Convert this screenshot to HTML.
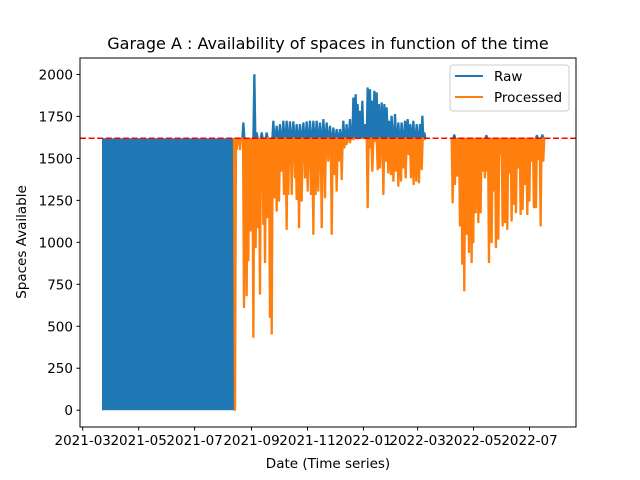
<!DOCTYPE html>
<html><head><meta charset="utf-8">
<style>
body{margin:0;background:#fff;}
svg{display:block;font-family:"DejaVu Sans","Liberation Sans",sans-serif;}
</style></head>
<body>
<svg id="chart" width="640" height="480" viewBox="0 0 640 480">
<rect width="640" height="480" fill="#fff"/>
<text x="328" y="49" font-size="16" text-anchor="middle">Garage A : Availability of spaces in function of the time</text>
<g id="plot"></g>
<g id="axes"></g>
<text x="328" y="468" font-size="13.5" text-anchor="middle">Date (Time series)</text>
<text x="26" y="242" font-size="13.5" text-anchor="middle" transform="rotate(-90 26 242)">Spaces Available</text>
<g>
<rect x="450" y="65" width="119" height="46" rx="3" fill="#fff" fill-opacity="0.8" stroke="#ccc"/>
<line x1="455" y1="76" x2="483" y2="76" stroke="#1f77b4" stroke-width="2"/>
<text x="494" y="81" font-size="13.5">Raw</text>
<line x1="455" y1="97" x2="483" y2="97" stroke="#ff7f0e" stroke-width="2"/>
<text x="494" y="102" font-size="13.5">Processed</text>
</g>
</svg>
<script>
// x in days since 2021-03-01
const xTickLabels=["2021-03","2021-05","2021-07","2021-09","2021-11","2022-01","2022-03","2022-05","2022-07"];
const xTickDays=[0,61,122,184,245,306,365,426,487];
const yTicks=[0,250,500,750,1000,1250,1500,1750,2000];
const capacity=1620;
const blockStartDay=21, blockEndDay=166, blockMin=0, blockMax=1620;
const rawDays=[175.1,187.1,189.6,195.1,200.5,207.8,211.4,215.0,218.7,222.3,225.9,229.6,233.2,236.8,240.5,244.1,247.7,251.4,255.0,258.6,262.3,265.9,269.5,273.2,276.8,280.4,284.1,287.7,291.3,295.0,297.5,299.7,302.2,304.8,307.7,310.6,313.1,315.7,317.9,320.4,322.9,325.9,328.8,331.3,333.8,336.7,340.4,344.0,347.6,351.3,354.2,357.1,360.4,364.0,367.6,370.2,372.4,405,440,495,501];
const rawVals=[1711,1998,1652,1652,1652,1721,1691,1701,1721,1721,1717,1717,1701,1701,1711,1717,1721,1721,1721,1711,1731,1711,1691,1681,1672,1672,1721,1701,1731,1859,1879,1820,1780,1840,1701,1919,1909,1840,1899,1889,1820,1830,1820,1800,1721,1751,1761,1711,1711,1721,1731,1701,1721,1701,1701,1751,1652,1640,1636,1636,1640];
const procDays=[166,167.8,171.4,175.8,178.7,180.5,183.1,186.0,188.5,190.7,193.2,196.9,198.7,201.6,204.1,206.0,208.9,211.4,214.0,216.9,219.4,222.3,224.1,227.8,231.4,233.2,235.8,238.7,242.3,245.2,248.8,251.4,253.9,256.8,260.5,264.1,267.7,271.4,274.3,276.8,279.3,282.3,285.2,287.7,291.3,295.0,300.4,305.9,310.6,313.1,315.7,318.6,321.5,324.0,327.7,330.2,333.1,336.0,338.6,341.1,344.0,346.9,349.5,352.0,354.9,357.8,360.7,363.6,366.5,369.5,372.4,
403.2,405.7,408.3,411.2,413.7,415.9,418.5,421.0,423.9,425.7,428.3,431.2,433.7,435.9,438.4,441.0,442.8,445.7,447.5,450.4,453.0,455.5,457.7,460.2,462.8,465.0,467.5,470.1,472.2,474.8,477.3,479.5,482.0,484.6,486.8,489.3,491.8,494.0,496.6,499.1,502.0];
const procVals=[0,1553,1553,613,683,890,1068,435,969,1088,692,1108,880,1147,554,455,1266,1187,1246,1424,1286,1078,1286,1286,1385,1256,1088,1246,1385,1306,1286,1048,1286,1306,1088,1266,1484,1048,1404,1306,1484,1375,1563,1583,1593,1612,1618,1618,1207,1563,1424,1602,1434,1444,1286,1484,1414,1404,1365,1424,1335,1365,1444,1385,1523,1385,1345,1365,1355,1434,1612,
1236,1345,1395,1098,870,712,1048,940,880,999,1177,1118,1177,1424,1385,1424,880,999,1306,969,1019,1523,1098,1118,1078,1414,1128,1226,1177,1444,1167,1197,1345,1167,1246,1484,1207,1207,1494,1098,1484];

const L=80,R=576,T=58,B=427;
const X=d=>82.7+d*0.9175;
const yMin=-100,yMax=2098;
const Y=v=>B-(v-yMin)/(yMax-yMin)*(B-T);
const NS="http://www.w3.org/2000/svg";
function mk(tag,attrs,parent){const e=document.createElementNS(NS,tag);for(const k in attrs)e.setAttribute(k,attrs[k]);parent.appendChild(e);return e;}
const plot=document.getElementById('plot');
const axes=document.getElementById('axes');
const clip=mk('clipPath',{id:'clip'},plot);
mk('rect',{x:L,y:T,width:R-L,height:B-T},clip);
const g=mk('g',{'clip-path':'url(#clip)'},plot);

const block=mk('rect',{x:X(blockStartDay),y:Y(blockMax),width:X(blockEndDay)-X(blockStartDay),height:Y(blockMin)-Y(blockMax),fill:'#1f77b4'},g);



function spikes(days,vals,base,w,color,name){
  let segs=[],cur=[];
  for(let i=0;i<days.length;i++){
    if(i>0&&days[i]-days[i-1]>10){segs.push(cur);cur=[];}
    cur.push(i);
  }
  segs.push(cur);
  segs.forEach(s=>{
    let pts=[[X(days[s[0]]-1.2),Y(base)]];
    s.forEach(i=>{const d=days[i],v=vals[i];
      pts.push([X(d-w),Y(base)],[X(d-w*0.35),Y(v)],[X(d+w*0.35),Y(v)],[X(d+w),Y(base)]);});
    pts.push([X(days[s[s.length-1]]+1.2),Y(base)]);
    const p=mk('polygon',{points:pts.map(q=>q.join(',')).join(' '),fill:color,stroke:color,'stroke-width':1.3,'stroke-linejoin':'round'},g);
    
    
  });
}
spikes(rawDays,rawVals,capacity,1.6,'#1f77b4','raw');
spikes(procDays,procVals,capacity,1.6,'#ff7f0e','processed');

const cap=mk('line',{x1:L,x2:R,y1:Y(capacity),y2:Y(capacity),stroke:'#ff0000','stroke-width':1.6,'stroke-dasharray':'6,2.6'},plot);



const frame=mk('rect',{x:L,y:T,width:R-L,height:B-T,fill:'none',stroke:'#000','stroke-width':1},axes);


yTicks.forEach(v=>{
  const y=Y(v);
  const t=mk('line',{x1:L-3.5,x2:L,y1:y,y2:y,stroke:'#000'},axes);
  
  
  const tx=mk('text',{x:L-7,y:y+5,'font-size':13.5,'text-anchor':'end'},axes);
  tx.textContent=v;
  
  
});
xTickDays.forEach((d,i)=>{
  const x=X(d);
  const t=mk('line',{x1:x,x2:x,y1:B,y2:B+3.5,stroke:'#000'},axes);
  
  
  const tx=mk('text',{x:x,y:B+18,'font-size':13.5,'text-anchor':'middle'},axes);
  tx.textContent=xTickLabels[i];
  
  
});
</script>
</body></html>
